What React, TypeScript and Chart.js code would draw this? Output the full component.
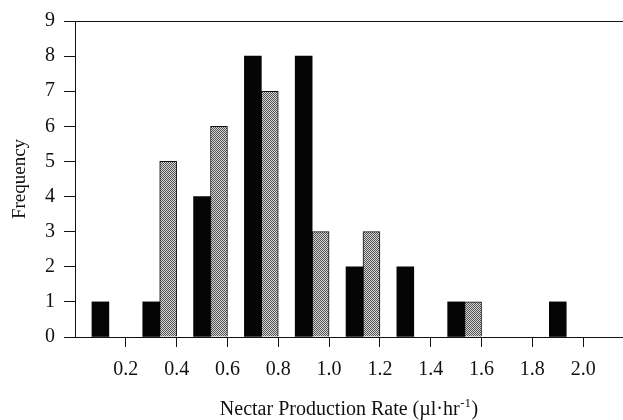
import React, { useEffect, useRef } from 'react';
import { Chart, registerables } from 'chart.js';

Chart.register(...registerables);

// ---- data ----
const binLabels = ['0.0–0.2', '0.2–0.4', '0.4–0.6', '0.6–0.8', '0.8–1.0', '1.0–1.2', '1.2–1.4', '1.4–1.6', '1.6–1.8', '1.8–2.0', '2.0–2.2'];
const blackCounts = [1, 1, 4, 8, 8, 2, 2, 1, 0, 1, 0];
const grayCounts = [0, 5, 6, 7, 3, 3, 0, 1, 0, 0, 0];
const spacerCounts = [null, null, null, null, null, null, null, null, null, null, null];
const xTickValues = [0.2, 0.4, 0.6, 0.8, 1.0, 1.2, 1.4, 1.6, 1.8, 2.0];
const xRange = [0, 2.2];
const yRange = [0, 9];
const yTitle = 'Frequency';
const xTitleMain = 'Nectar Production Rate (µl·hr';
const xTitleSup = '-1';
const xTitleEnd = ')';

const FAMILY = '"Liberation Serif", "Times New Roman", serif';
const INK = '#111111';
const CLEAR = 'rgba(0,0,0,0)';

function makeStipple(): CanvasPattern | string {
  const c = document.createElement('canvas');
  c.width = 2;
  c.height = 2;
  const g = c.getContext('2d');
  if (!g) return '#959595';
  g.fillStyle = '#d4d4d4';
  g.fillRect(0, 0, 2, 2);
  g.fillStyle = '#555555';
  g.fillRect(0, 0, 1, 1);
  g.fillRect(1, 1, 1, 1);
  const p = g.createPattern(c, 'repeat');
  return p || '#959595';
}

const xTitlePlugin = {
  id: 'xTitleSup',
  afterDraw(chart: any) {
    const ctx: CanvasRenderingContext2D = chart.ctx;
    ctx.save();
    const mainFont = `20px ${FAMILY}`;
    const supFont = `13px ${FAMILY}`;
    ctx.font = mainFont;
    const w1 = ctx.measureText(xTitleMain).width;
    const w3 = ctx.measureText(xTitleEnd).width;
    ctx.font = supFont;
    const w2 = ctx.measureText(xTitleSup).width;
    const total = w1 + w2 + w3 + 1;
    const cx = 349;
    const baseline = 414.5;
    let x = cx - total / 2;
    ctx.fillStyle = INK;
    ctx.textBaseline = 'alphabetic';
    ctx.textAlign = 'left';
    ctx.font = mainFont;
    ctx.fillText(xTitleMain, x, baseline);
    x += w1 + 0.5;
    ctx.font = supFont;
    ctx.fillText(xTitleSup, x, baseline - 7.5);
    x += w2 + 0.5;
    ctx.font = mainFont;
    ctx.fillText(xTitleEnd, x, baseline);
    ctx.restore();
  },
};

export default function App() {
  const ref = useRef<HTMLCanvasElement | null>(null);

  useEffect(() => {
    if (!ref.current) return;
    const stipple = makeStipple();
    const chart = new Chart(ref.current, {
      type: 'bar',
      data: {
        labels: binLabels,
        datasets: [
          {
            label: 'spacer',
            data: spacerCounts as any,
            backgroundColor: CLEAR,
            borderWidth: 0,
          },
          {
            label: 'black',
            data: blackCounts,
            backgroundColor: (c: any) => (c.raw ? '#050505' : CLEAR),
            borderColor: CLEAR,
            borderWidth: 0,
          },
          {
            label: 'gray',
            data: grayCounts,
            backgroundColor: (c: any) => (c.raw ? (stipple as any) : CLEAR),
            borderColor: (c: any) => (c.raw ? INK : CLEAR),
            borderWidth: (c: any) => (c.raw ? 1 : 0),
          },
        ],
      },
      options: {
        animation: false,
        responsive: true,
        maintainAspectRatio: false,
        events: [],
        layout: { padding: { top: 19, right: 16, bottom: 0, left: 0 } },
        datasets: {
          bar: { categoryPercentage: 1, barPercentage: 1 },
        },
        plugins: {
          legend: { display: false },
          tooltip: { enabled: false },
          title: { display: false },
        },
        scales: {
          x: {
            type: 'category',
            display: false,
            offset: true,
          },
          xt: {
            type: 'linear',
            position: 'bottom',
            min: xRange[0],
            max: xRange[1],
            offset: false,
            afterBuildTicks: (scale: any) => {
              scale.ticks = xTickValues.map((v) => ({ value: v }));
            },
            afterFit: (scale: any) => {
              scale.height = 83;
            },
            grid: {
              display: true,
              offset: false,
              drawOnChartArea: false,
              drawTicks: true,
              tickLength: 10,
              color: INK,
              tickColor: INK,
              lineWidth: 1,
            },
            border: { display: true, color: INK, width: 1 },
            ticks: {
              autoSkip: false,
              maxRotation: 0,
              padding: 11,
              color: INK,
              font: { family: FAMILY, size: 20 },
              callback: (v: any) => Number(v).toFixed(1),
            },
          },
          y: {
            type: 'linear',
            position: 'left',
            min: yRange[0],
            max: yRange[1],
            afterFit: (scale: any) => {
              scale.width = 75;
            },
            grid: {
              display: true,
              drawOnChartArea: true,
              drawTicks: true,
              tickLength: 11,
              color: (c: any) => (c.tick && c.tick.value === yRange[1] ? INK : CLEAR),
              tickColor: INK,
              lineWidth: 1,
            },
            border: { display: true, color: INK, width: 1 },
            ticks: {
              stepSize: 1,
              padding: 9,
              color: INK,
              font: { family: FAMILY, size: 20 },
            },
            title: {
              display: true,
              text: yTitle,
              color: INK,
              font: { family: FAMILY, size: 19 },
              padding: { top: 9, bottom: 0 },
            },
          },
        },
      },
      plugins: [xTitlePlugin],
    });
    return () => chart.destroy();
  }, []);

  return (
    <div
      style={{
        position: 'absolute',
        left: 0,
        top: 0,
        width: 623,
        height: 420,
        overflow: 'hidden',
        background: '#ffffff',
      }}
    >
      <div style={{ position: 'relative', width: 650, height: 420 }}>
        <canvas ref={ref} />
      </div>
    </div>
  );
}
